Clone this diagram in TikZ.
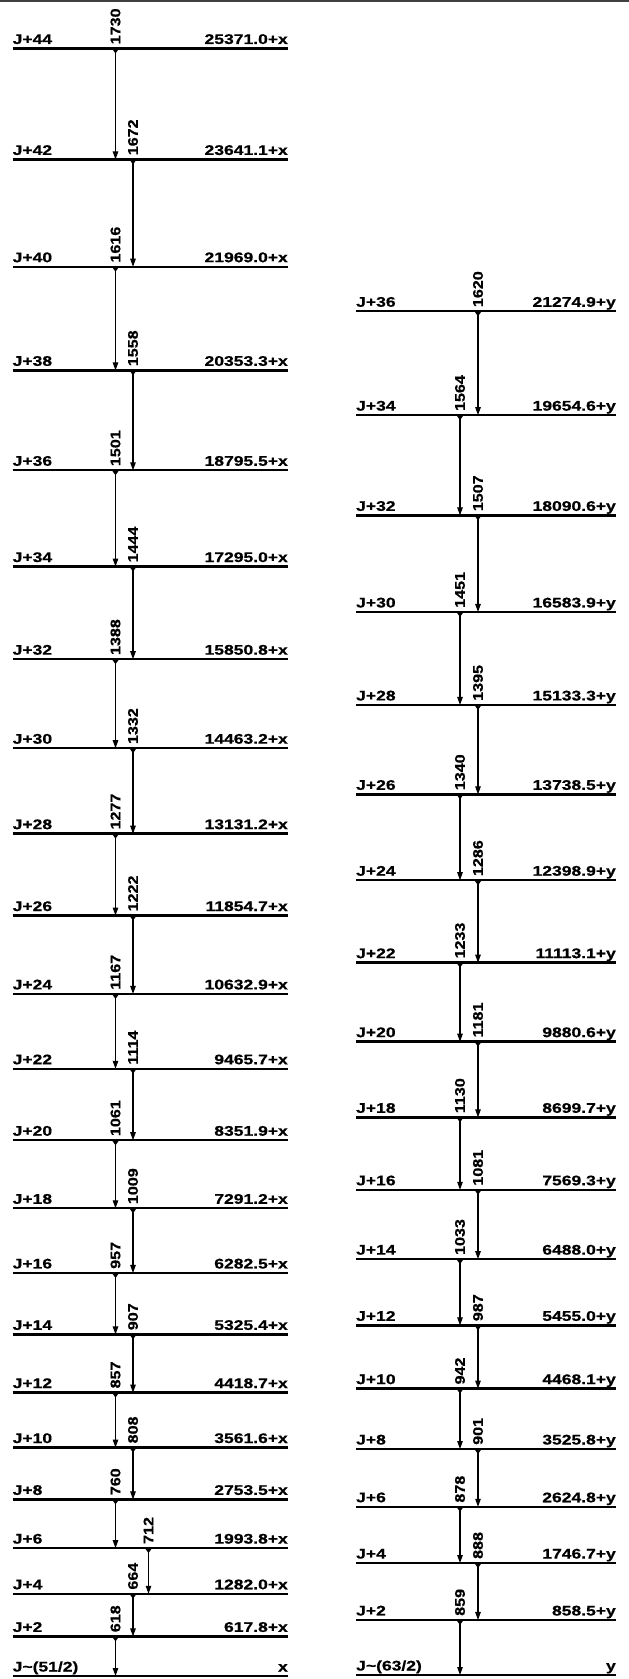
\documentclass[tikz,border=0pt]{standalone}
\usepackage{fontspec}
\setmainfont{Liberation Sans}[BoldFeatures={FakeBold=0.6}]
\usetikzlibrary{arrows.meta}
\newcommand\labfont{\fontsize{14}{16}\selectfont\bfseries}
\tikzset{
  lev/.style={line width=2.4pt, line cap=butt},
  gline/.style={line width=1.1pt, -{Triangle[length=8pt,width=5.5pt]}},
  lab/.style={inner sep=0pt, font=\labfont},
  elab/.style={inner sep=0pt, font=\labfont, rotate=90, anchor=west},
}
% left level: name, energy/10, left text, right text
\newcommand\levL[4]{%
  \coordinate (#1a) at (12.5,{1676-0.6415*#2});
  \coordinate (#1b) at (288,{1676-0.6415*#2});
  \draw[lev] (#1a) -- (#1b);
  \node[lab,anchor=base west] (#1t) at ([yshift=4.5pt]#1a) {\scalebox{1.25}[1]{#3}};
  \node[lab,anchor=base east] (#1e) at ([yshift=4.5pt]#1b) {\scalebox{1.25}[1]{#4}};
}
% right level
\newcommand\levR[4]{%
  \coordinate (#1a) at (356,{1675-0.641*#2});
  \coordinate (#1b) at (616,{1675-0.641*#2});
  \draw[lev] (#1a) -- (#1b);
  \node[lab,anchor=base west] (#1t) at ([yshift=4.5pt]#1a) {\scalebox{1.25}[1]{#3}};
  \node[lab,anchor=base east] (#1e) at ([yshift=4.5pt]#1b) {\scalebox{1.25}[1]{#4}};
}
% transition: from, to, column, label
\newcommand\gtrans[4]{%
  \draw[gline] (#1a -| #3) -- (#2a -| #3);
  \fill (#1a -| #3) ++(-3.6pt,0) -- ++(7.2pt,0) -- ++(-3.6pt,-5pt) -- cycle;
  \path (#1a -| #3) ++(0,4pt) node[elab] (#1#2l) {\scalebox{1.15}[1]{#4}};
}
\begin{document}
\begin{tikzpicture}[x=1pt,y=-1pt]
\useasboundingbox (0,0) rectangle (629,1679);
\draw[line width=1.4pt, black!75] (0,1) -- (629,1);
\coordinate (cA) at (115.5,0);
\coordinate (cB) at (133,0);
\coordinate (cC) at (148.5,0);
\coordinate (dA) at (460,0);
\coordinate (dB) at (478,0);
% left band
\levL{L44}{2537.10}{J+44}{25371.0+x}
\levL{L42}{2364.11}{J+42}{23641.1+x}
\levL{L40}{2196.90}{J+40}{21969.0+x}
\levL{L38}{2035.33}{J+38}{20353.3+x}
\levL{L36}{1879.55}{J+36}{18795.5+x}
\levL{L34}{1729.50}{J+34}{17295.0+x}
\levL{L32}{1585.08}{J+32}{15850.8+x}
\levL{L30}{1446.32}{J+30}{14463.2+x}
\levL{L28}{1313.12}{J+28}{13131.2+x}
\levL{L26}{1185.47}{J+26}{11854.7+x}
\levL{L24}{1063.29}{J+24}{10632.9+x}
\levL{L22}{946.57}{J+22}{9465.7+x}
\levL{L20}{835.19}{J+20}{8351.9+x}
\levL{L18}{729.12}{J+18}{7291.2+x}
\levL{L16}{628.25}{J+16}{6282.5+x}
\levL{L14}{532.54}{J+14}{5325.4+x}
\levL{L12}{441.87}{J+12}{4418.7+x}
\levL{L10}{356.16}{J+10}{3561.6+x}
\levL{L8}{275.35}{J+8}{2753.5+x}
\levL{L6}{199.38}{J+6}{1993.8+x}
\levL{L4}{128.20}{J+4}{1282.0+x}
\levL{L2}{61.78}{J+2}{617.8+x}
\levL{L0}{0}{J\textasciitilde(51/2)}{x}
\gtrans{L44}{L42}{cA}{1730}
\gtrans{L42}{L40}{cB}{1672}
\gtrans{L40}{L38}{cA}{1616}
\gtrans{L38}{L36}{cB}{1558}
\gtrans{L36}{L34}{cA}{1501}
\gtrans{L34}{L32}{cB}{1444}
\gtrans{L32}{L30}{cA}{1388}
\gtrans{L30}{L28}{cB}{1332}
\gtrans{L28}{L26}{cA}{1277}
\gtrans{L26}{L24}{cB}{1222}
\gtrans{L24}{L22}{cA}{1167}
\gtrans{L22}{L20}{cB}{1114}
\gtrans{L20}{L18}{cA}{1061}
\gtrans{L18}{L16}{cB}{1009}
\gtrans{L16}{L14}{cA}{957}
\gtrans{L14}{L12}{cB}{907}
\gtrans{L12}{L10}{cA}{857}
\gtrans{L10}{L8}{cB}{808}
\gtrans{L8}{L6}{cA}{760}
\gtrans{L6}{L4}{cC}{712}
\gtrans{L4}{L2}{cB}{664}
\gtrans{L2}{L0}{cA}{618}
% right band
\levR{R36}{2127.49}{J+36}{21274.9+y}
\levR{R34}{1965.46}{J+34}{19654.6+y}
\levR{R32}{1809.06}{J+32}{18090.6+y}
\levR{R30}{1658.39}{J+30}{16583.9+y}
\levR{R28}{1513.33}{J+28}{15133.3+y}
\levR{R26}{1373.85}{J+26}{13738.5+y}
\levR{R24}{1239.89}{J+24}{12398.9+y}
\levR{R22}{1111.31}{J+22}{11113.1+y}
\levR{R20}{988.06}{J+20}{9880.6+y}
\levR{R18}{869.97}{J+18}{8699.7+y}
\levR{R16}{756.93}{J+16}{7569.3+y}
\levR{R14}{648.80}{J+14}{6488.0+y}
\levR{R12}{545.50}{J+12}{5455.0+y}
\levR{R10}{446.81}{J+10}{4468.1+y}
\levR{R8}{352.58}{J+8}{3525.8+y}
\levR{R6}{262.48}{J+6}{2624.8+y}
\levR{R4}{174.67}{J+4}{1746.7+y}
\levR{R2}{85.85}{J+2}{858.5+y}
\levR{R0}{0}{J\textasciitilde(63/2)}{y}
\gtrans{R36}{R34}{dB}{1620}
\gtrans{R34}{R32}{dA}{1564}
\gtrans{R32}{R30}{dB}{1507}
\gtrans{R30}{R28}{dA}{1451}
\gtrans{R28}{R26}{dB}{1395}
\gtrans{R26}{R24}{dA}{1340}
\gtrans{R24}{R22}{dB}{1286}
\gtrans{R22}{R20}{dA}{1233}
\gtrans{R20}{R18}{dB}{1181}
\gtrans{R18}{R16}{dA}{1130}
\gtrans{R16}{R14}{dB}{1081}
\gtrans{R14}{R12}{dA}{1033}
\gtrans{R12}{R10}{dB}{987}
\gtrans{R10}{R8}{dA}{942}
\gtrans{R8}{R6}{dB}{901}
\gtrans{R6}{R4}{dA}{878}
\gtrans{R4}{R2}{dB}{888}
\gtrans{R2}{R0}{dA}{859}
\end{tikzpicture}
\end{document}
